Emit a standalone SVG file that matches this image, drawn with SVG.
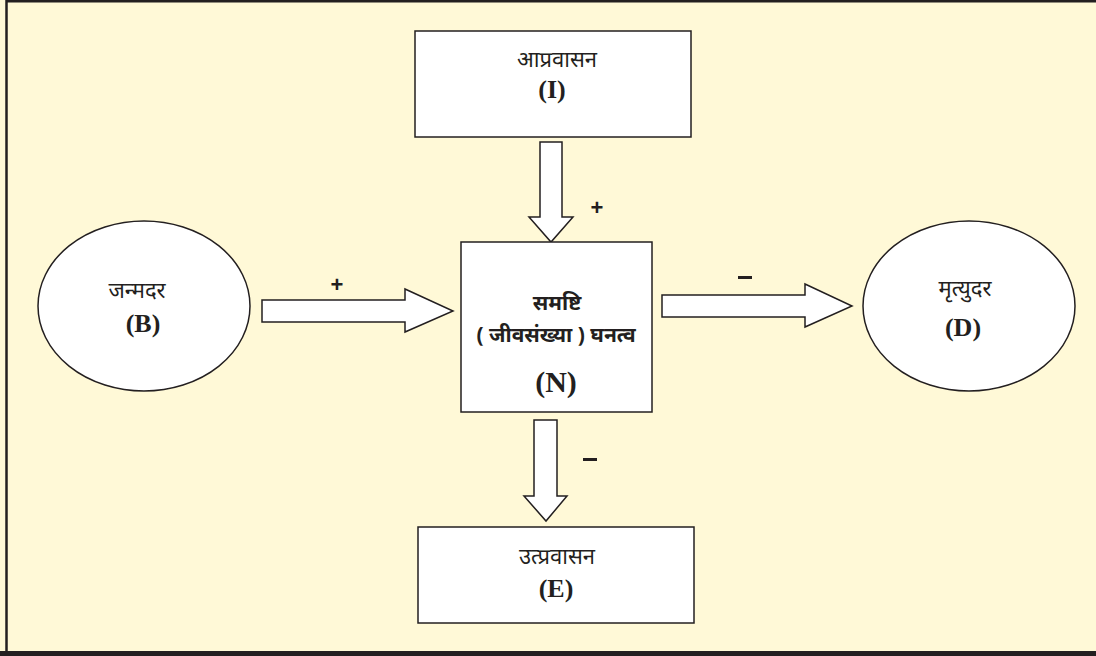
<svg xmlns="http://www.w3.org/2000/svg" width="1096" height="656" viewBox="0 0 1096 656">
<style>
.bg{fill:#FFF9D7}
.node{fill:#FFFFFF;stroke:#231F20;stroke-width:1.5}
.arrow{fill:#FFFFFF;stroke:#231F20;stroke-width:1.5;stroke-linejoin:miter}
.hi{font-family:"Noto Sans","Noto Sans Devanagari","Lohit Devanagari",sans-serif;font-size:22px;fill:#231F20;text-anchor:middle}
.hib{font-family:"Noto Sans","Noto Sans Devanagari","Lohit Devanagari",sans-serif;font-size:21px;font-weight:bold;fill:#231F20;text-anchor:middle}
.lat{font-family:"Liberation Serif","Times New Roman",serif;font-size:26px;font-weight:bold;fill:#231F20;text-anchor:middle}
.latN{font-family:"Liberation Serif","Times New Roman",serif;font-size:30px;font-weight:bold;fill:#231F20;text-anchor:middle}
.sign{font-family:"Liberation Sans",Arial,sans-serif;font-size:22px;font-weight:bold;fill:#231F20;text-anchor:middle}
</style>
<rect class="bg" x="0" y="0" width="1096" height="656"/>
<path d="M6.5,656 V1.2 H1096" fill="none" stroke="#231F20" stroke-width="2.5"/>
<rect x="0" y="651" width="1096" height="5" fill="#231F20"/>

<g id="connectors">
  <path class="arrow" d="M540,142 H562 V217 H573 L551,242 L529,217 H540 Z"/>
  <path class="arrow" d="M262,300 H405 V289 L453,311 L405,332 V322 H262 Z"/>
  <path class="arrow" d="M662,295 H805 V284 L852,306 L805,327 V317 H662 Z"/>
  <path class="arrow" d="M534,420 H557 V496 H567 L546,521 L524,496 H534 Z"/>
  <text class="sign" x="597" y="215">+</text>
  <text class="sign" x="337" y="292">+</text>
  <rect x="738" y="276" width="14" height="3" fill="#231F20"/>
  <rect x="583" y="458" width="14" height="3" fill="#231F20"/>
</g>

<g id="node-I">
  <rect class="node" x="415" y="31" width="276" height="106"/>
  <text class="hi" x="557" y="67">आप्रवासन</text>
  <text class="lat" x="552" y="98">(I)</text>
</g>

<g id="node-N">
  <rect class="node" x="461" y="242" width="191" height="170"/>
  <text class="hib" x="557" y="310">समष्टि</text>
  <text class="hib" x="556" y="342">( जीवसंख्या )  घनत्व</text>
  <text class="latN" x="556" y="392">(N)</text>
</g>

<g id="node-B">
  <ellipse class="node" cx="144" cy="306" rx="106" ry="85"/>
  <text class="hi" x="137" y="298">जन्मदर</text>
  <text class="lat" x="143" y="332">(B)</text>
</g>

<g id="node-D">
  <ellipse class="node" cx="969" cy="306" rx="106" ry="85"/>
  <text class="hi" x="965" y="296">मृत्युदर</text>
  <text class="lat" x="963" y="336">(D)</text>
</g>

<g id="node-E">
  <rect class="node" x="418" y="527" width="276" height="96"/>
  <text class="hi" x="557" y="564">उत्प्रवासन</text>
  <text class="lat" x="556" y="597">(E)</text>
</g>
</svg>
